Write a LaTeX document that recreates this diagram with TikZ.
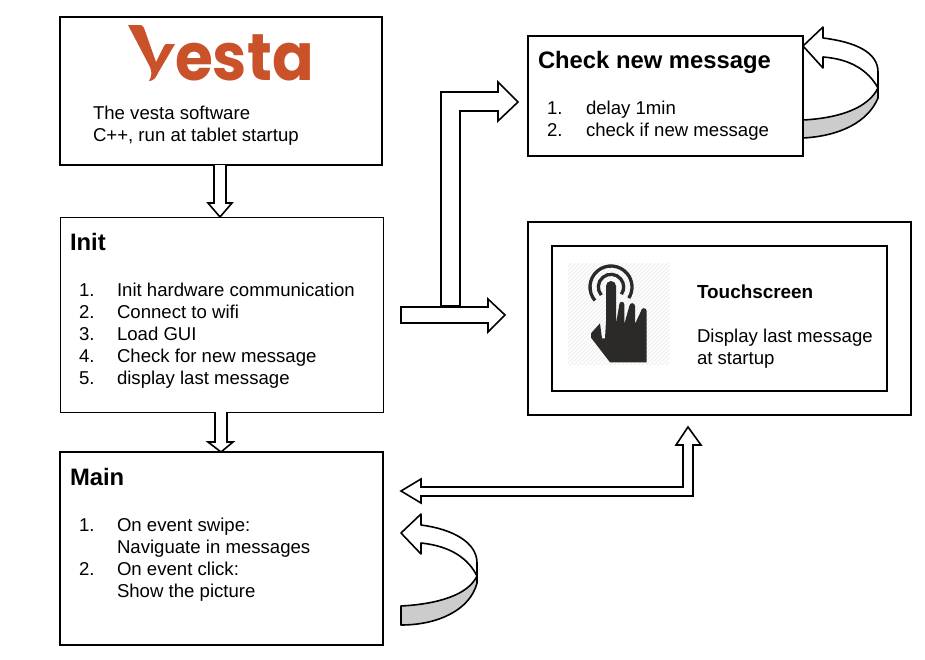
\documentclass[tikz,border=0pt]{standalone}
\usepackage{fontspec}
\setmainfont{Liberation Sans}
\newfontfamily\logofont{Poppins}
\definecolor{logoc}{HTML}{C9522A}
\definecolor{bandc}{HTML}{CCCCCC}
\definecolor{iconc}{HTML}{2B2A28}
\definecolor{hatchc}{HTML}{EDEDED}
\tikzset{
  box/.style={draw=black,line width=1.4pt,fill=white},
  blockarrow/.style={draw=black,line width=1.6pt,fill=white,line join=miter},
  band/.style={draw=black,line width=1.6pt,fill=bandc,line join=round},
  bodytext/.style={anchor=base west,inner sep=0pt,outer sep=0pt,font=\fontsize{18.6}{22}\selectfont},
  titletext/.style={anchor=base west,inner sep=0pt,outer sep=0pt,font=\fontsize{23.8}{28}\selectfont\bfseries},
  touchtext/.style={anchor=base west,inner sep=0pt,outer sep=0pt,font=\fontsize{18.6}{22}\selectfont},
}
\begin{document}
\begin{tikzpicture}[x=1pt,y=-1pt]
\useasboundingbox (0,0) rectangle (925,659);
\fill[white] (0,0) rectangle (925,659);
% boxes
\draw[box] (60,17) rectangle (382,165);
\draw[box,line width=1pt] (60,217) rectangle (383,412);
\draw[box] (60,452) rectangle (383,645);
\draw[box] (528,36) rectangle (803,156);
\draw[box] (528,222) rectangle (911,415);
\draw[box] (552,246) rectangle (887,391);
% logo
\fill[logoc] (128,25) -- (140,25) .. controls (142,25) and (143,26) .. (144,28) -- (156,62) -- (164,46) .. controls (165,44) and (166,44) .. (168,44) -- (175,44) -- (158,73) .. controls (156,78) and (153,81) .. (149,81) .. controls (152,76) and (152,72) .. (150,67) -- cycle;
\node[anchor=base west,inner sep=0pt,text=logoc,xscale=0.93,font=\logofont\bfseries\fontsize{66}{70}\selectfont] (logo) at (175,80.5) {esta};
% text
\node[bodytext] (v1) at (93,119) {The vesta software};
\node[bodytext] (v2) at (93,141) {C++, run at tablet startup};
\node[titletext] (initt) at (70,250) {Init};
\foreach \n/\t/\y in {1/Init hardware communication/296,2/Connect to wifi/318,3/Load GUI/340,4/Check for new message/362,5/display last message/384}{
  \node[bodytext] (initn\n) at (79,\y) {\n.};
  \node[bodytext] (init\n) at (117,\y) {\t};
}
\node[titletext] (maint) at (70,485) {Main};
\node[bodytext] (mainn1) at (79,531) {1.};
\node[bodytext] (main1) at (117,531) {On event swipe:};
\node[bodytext] (main1b) at (117,553) {Naviguate in messages};
\node[bodytext] (mainn2) at (79,575) {2.};
\node[bodytext] (main2) at (117,575) {On event click:};
\node[bodytext] (main2b) at (117,597) {Show the picture};
\node[titletext] (checkt) at (538,68) {Check new message};
\node[bodytext] (checkn1) at (547,114) {1.};
\node[bodytext] (check1) at (586,114) {delay 1min};
\node[bodytext] (checkn2) at (547,136) {2.};
\node[bodytext] (check2) at (586,136) {check if new message};
\node[touchtext,font=\fontsize{18.9}{22}\selectfont\bfseries] (tt) at (697,298) {Touchscreen};
\node[touchtext] (t1) at (697,342) {Display last message};
\node[touchtext] (t2) at (697,364) {at startup};
% icon
\begin{scope}
\clip (568,263) rectangle (669,365);
\foreach \i in {0,4,...,204}{
  \draw[hatchc,line width=0.8pt] (568+\i-102,365) -- (568+\i,263);
}
\end{scope}
\begin{scope}[shift={(560,255)},x=0.3333pt,y=-0.3333pt]
\fill[iconc] (138,93) arc[start angle=180,end angle=360,radius=15] -- (168,207) -- (178,148) arc[start angle=180,end angle=360,radius=7.5] -- (193,207) -- (208,153) arc[start angle=180,end angle=360,radius=8.5] -- (225,207) -- (243,168) arc[start angle=180,end angle=360,radius=8.5] -- (260,322) -- (150,322) -- (93,248) -- (93,235) -- (120,205) -- (126,250) -- (135,250) -- (138,200) -- cycle;
\draw[iconc,line width=3.3pt,line cap=butt] (153,96) ++(140:63) arc[start angle=140,end angle=392,radius=63];
\draw[iconc,line width=3.3pt,line cap=butt] (153,96) ++(140:38) arc[start angle=140,end angle=395,radius=38];
\end{scope}
% block arrows
\draw[blockarrow] (214,165) -- (214,203) -- (208,203) -- (220,217) -- (232,203) -- (226,203) -- (226,165);
\draw[blockarrow] (215,412) -- (215,442) -- (208,442) -- (221,452) -- (233,442) -- (227,442) -- (227,412);
\draw[blockarrow] (441,306) -- (441,92) -- (498,92) -- (498,82) -- (518,102) -- (498,121) -- (498,111) -- (460,111) -- (460,306) -- cycle;
\draw[blockarrow] (401,307) -- (488,307) -- (488,299) -- (505,315) -- (488,332) -- (488,323) -- (401,323) -- cycle;
\draw[blockarrow] (401,491) -- (421,479) -- (421,487) -- (683,487) -- (683,445) -- (676,445) -- (688,427) -- (701,445) -- (693,445) -- (693,496) -- (421,496) -- (421,503) -- cycle;
% curved arrows
\draw[band] (803,120) .. controls (840,118) and (868,108) .. (878,88) -- (878,98) .. controls (868,122) and (840,136) .. (803,138) -- cycle;
\draw[blockarrow,line join=round] (803,46) -- (823,27) -- (823,38) .. controls (855,42) and (878,52) .. (878,72) -- (878,88) .. controls (868,70) and (850,59) .. (823,57) -- (823,68) -- cycle;
\draw[band] (401,606) .. controls (438,604) and (468,595) .. (477,576) -- (477,583) .. controls (470,610) and (438,625) .. (401,625) -- cycle;
\draw[blockarrow,line join=round] (401,533) -- (421,514) -- (421,525) .. controls (452,529) and (477,542) .. (477,563) -- (477,576) .. controls (468,558) and (450,546) .. (421,543) -- (421,554) -- cycle;
\end{tikzpicture}
\end{document}
